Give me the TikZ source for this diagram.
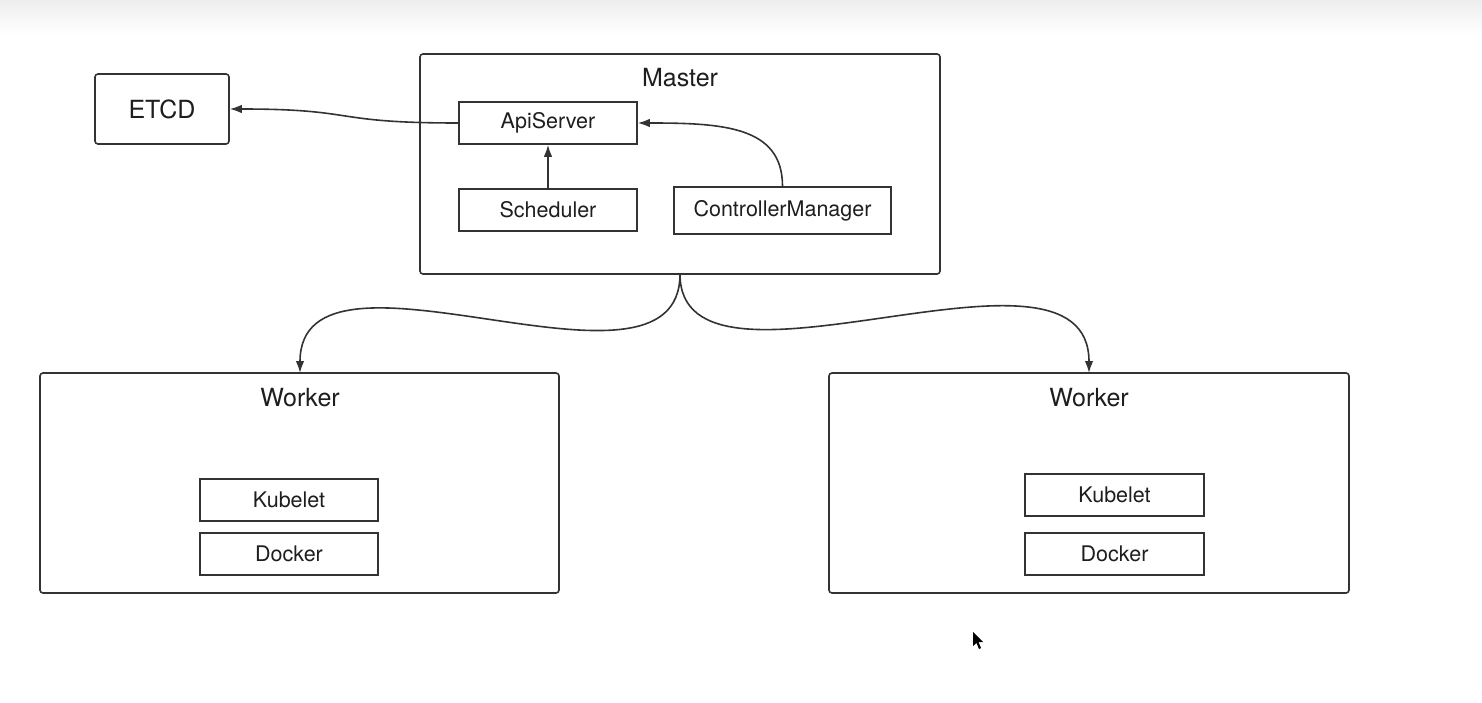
\documentclass[tikz,border=0pt]{standalone}
\usepackage{fontspec}
\setmainfont{TeX Gyre Heros}
\usetikzlibrary{arrows.meta}
\definecolor{ln}{HTML}{333333}
\definecolor{tx}{HTML}{1E1E1E}
\tikzset{
  frame/.style={draw=ln, line width=1.6pt, rounded corners=3pt, inner sep=0pt},
  sbox/.style={draw=ln, line width=1.6pt, inner sep=0pt, text=tx, font=\fontsize{21.5}{24}\selectfont},
  bigtxt/.style={inner sep=0pt, text=tx, font=\fontsize{25}{28}\selectfont},
  conn/.style={draw=ln, line width=1.6pt, -{Latex[length=12pt,width=8.5pt]}}
}
\begin{document}
\begin{tikzpicture}[x=1pt,y=-1pt]
\useasboundingbox (0,0) rectangle (1482,703);
\fill[white] (0,0) rectangle (1482,703);
\shade[top color=black!7, bottom color=white] (0,0) rectangle (1482,34);

% Master
\node[frame, minimum width=520, minimum height=220] (master) at (680,164) {};
\node[bigtxt] (mlabel) at (680,78) {Master};
\node[sbox, minimum width=178, minimum height=42] (api) at (548,123) {ApiServer};
\node[sbox, minimum width=178, minimum height=42] (sched) at (548,210) {Scheduler};
\node[sbox, minimum width=217, minimum height=47] (cm) at (782.5,210.5) {ControllerManager};

% ETCD
\node[frame, minimum width=134, minimum height=70, text=tx, font=\fontsize{25}{28}\selectfont] (etcd) at (162,109) {ETCD};

% Workers
\node[frame, minimum width=519, minimum height=220] (wl) at (299.5,483) {};
\node[bigtxt] (wllabel) at (300,398) {Worker};
\node[sbox, minimum width=178, minimum height=42] (kl) at (289,500) {Kubelet};
\node[sbox, minimum width=178, minimum height=42] (dl) at (289,554) {Docker};

\node[frame, minimum width=520, minimum height=220] (wr) at (1089,483) {};
\node[bigtxt] (wrlabel) at (1089,398) {Worker};
\node[sbox, minimum width=179, minimum height=42] (kr) at (1114.5,495) {Kubelet};
\node[sbox, minimum width=179, minimum height=42] (dr) at (1114.5,554) {Docker};

% connectors
\draw[conn] (api.west) .. controls +(-130,0) and +(130,0) .. (etcd.east);
\draw[conn] (sched.north) -- (api.south);
\draw[conn] (cm.north) .. controls +(0,-60) and +(85,0) .. (api.east);
\coordinate (wlin) at (300,373);
\coordinate (wrin) at (1089,373);
\coordinate (mout) at (680,274);
\draw[conn] (mout) .. controls (680,420) and (300,220) .. (wlin);
\draw[conn] (mout) .. controls (680,420) and (1089,215) .. (wrin);

% mouse cursor
\fill[black] (973,632) -- (973,646) -- (976.5,643) -- (979,649) -- (981,648) -- (978.5,642) -- (983,642) -- cycle;
\end{tikzpicture}
\end{document}
